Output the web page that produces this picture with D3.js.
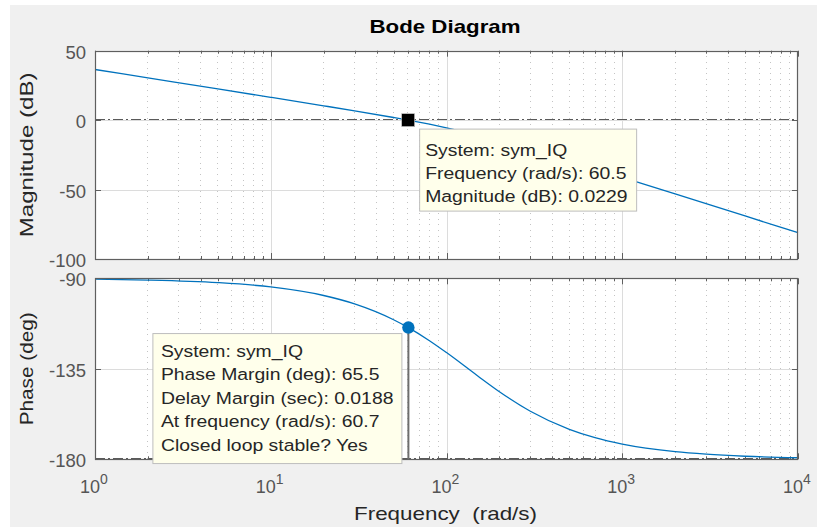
<!DOCTYPE html>
<html>
<head>
<meta charset="utf-8">
<script src="https://cdn.jsdelivr.net/npm/d3@7"></script>
<style>
  html, body { margin: 0; padding: 0; background: #ffffff; }
  svg { display: block; }
  text { font-family: "Liberation Sans", Arial, Helvetica, sans-serif; }
</style>
</head>
<body>
<svg id="chart" width="817" height="529"></svg>
<script>
// ---------------- data ----------------
const title = "Bode Diagram";
const xLabel = "Frequency  (rad/s)";
const magLabel = "Magnitude (dB)";
const phaseLabel = "Phase (deg)";

const magFreq = [1, 2, 5, 10, 20, 30, 50, 60.5, 80, 100, 150, 200, 300, 500, 700, 1000, 2000, 3000, 5000, 10000];
const magDb   = [36.45, 30.43, 22.47, 16.43, 10.33, 6.69, 1.90, 0.02, -2.95, -5.50, -10.63, -14.70, -20.94, -29.33, -35.03, -41.15, -53.13, -60.16, -69.03, -81.07];

const phaseFreq = [1, 2, 5, 10, 20, 30, 50, 60.7, 80, 100, 150, 200, 300, 500, 700, 1000, 2000, 3000, 5000, 10000];
const phaseDeg  = [-90.43, -90.86, -92.15, -94.30, -98.55, -102.71, -110.60, -114.53, -121.02, -126.94, -138.44, -146.38, -156.09, -165.10, -169.24, -172.42, -176.20, -177.46, -178.48, -179.24];

const xDecades = [1, 10, 100, 1000, 10000];
const xExponents = ["0", "1", "2", "3", "4"];
const magTicks = [50, 0, -50, -100];
const phaseTicks = [-90, -135, -180];

const magTip = { freq: 60.5, value: 0.0229,
  lines: ["System: sym_IQ", "Frequency (rad/s): 60.5", "Magnitude (dB): 0.0229"] };
const phaseTip = { freq: 60.7, value: -114.5,
  lines: ["System: sym_IQ", "Phase Margin (deg): 65.5", "Delay Margin (sec): 0.0188", "At frequency (rad/s): 60.7", "Closed loop stable? Yes"] };

// ---------------- layout ----------------
const svg = d3.select("#chart");
const L = 95, R = 798;
const magTop = 50.7, magBot = 259;
const phTop = 278.3, phBot = 459.3;

const x = d3.scaleLog().domain([1, 10000]).range([L, R]);
const yMag = d3.scaleLinear().domain([-100, 50]).range([magBot, magTop]);
const yPh = d3.scaleLinear().domain([-180, -90]).range([phBot, phTop]);

const lineColor = "#0072bd";
const frameColor = "#5f5f5f";
const gridColor = "#dcdcdc";
const minorGridColor = "#c4c4c4";
const tickTextColor = "#555555";

// figure background
svg.append("rect").attr("x", 10).attr("y", 5).attr("width", 807).attr("height", 522).attr("fill", "#f0f0f0");

// minor frequencies
const minorFreqs = [];
for (let d = 0; d < 4; d++) for (let k = 2; k <= 9; k++) minorFreqs.push(k * Math.pow(10, d));

function drawAxes(y, top, bot, yTicks, refValue) {
  const g = svg.append("g");
  g.append("rect").attr("x", L).attr("y", top).attr("width", R - L).attr("height", bot - top).attr("fill", "#ffffff");
  // minor dotted vertical grid
  g.selectAll(".mg").data(minorFreqs).enter().append("line")
    .attr("x1", d => x(d)).attr("x2", d => x(d)).attr("y1", top).attr("y2", bot)
    .attr("stroke", minorGridColor).attr("stroke-width", 1).attr("stroke-dasharray", "1,4.6")
    .attr("shape-rendering", "crispEdges");
  // major vertical grid
  g.selectAll(".vg").data(xDecades.slice(1, -1)).enter().append("line")
    .attr("x1", d => Math.round(x(d)) + 0.5).attr("x2", d => Math.round(x(d)) + 0.5).attr("y1", top).attr("y2", bot)
    .attr("stroke", gridColor).attr("stroke-width", 1);
  // major horizontal grid
  g.selectAll(".hg").data(yTicks).enter().append("line")
    .attr("x1", L).attr("x2", R).attr("y1", d => Math.round(y(d)) + 0.5).attr("y2", d => Math.round(y(d)) + 0.5)
    .attr("stroke", gridColor).attr("stroke-width", 1);
  // reference dash-dot line
  g.append("line").attr("x1", L).attr("x2", R).attr("y1", Math.round(y(refValue)) - 0.5).attr("y2", Math.round(y(refValue)) - 0.5)
    .attr("stroke", "#5a5a5a").attr("stroke-width", 1.2).attr("stroke-dasharray", "10,3,2,3");
  // minor ticks (top & bottom)
  minorFreqs.forEach(f => {
    const xx = Math.round(x(f)) + 0.5;
    g.append("line").attr("x1", xx).attr("x2", xx).attr("y1", bot).attr("y2", bot - 3).attr("stroke", frameColor);
    g.append("line").attr("x1", xx).attr("x2", xx).attr("y1", top).attr("y2", top + 3).attr("stroke", frameColor);
  });
  // major x ticks
  xDecades.forEach(f => {
    const xx = Math.round(x(f)) + 0.5;
    g.append("line").attr("x1", xx).attr("x2", xx).attr("y1", bot).attr("y2", bot - 6).attr("stroke", frameColor);
    g.append("line").attr("x1", xx).attr("x2", xx).attr("y1", top).attr("y2", top + 6).attr("stroke", frameColor);
  });
  // y ticks
  yTicks.forEach(v => {
    const yy = Math.round(y(v)) + 0.5;
    g.append("line").attr("x1", L).attr("x2", L + 6).attr("y1", yy).attr("y2", yy).attr("stroke", frameColor);
    g.append("line").attr("x1", R - 6).attr("x2", R).attr("y1", yy).attr("y2", yy).attr("stroke", frameColor);
  });
  // y tick labels
  g.selectAll(".yl").data(yTicks).enter().append("text")
    .attr("x", L - 9).attr("y", d => y(d) + 1.5)
    .attr("text-anchor", "end").attr("dominant-baseline", "central")
    .attr("font-size", 18.5).attr("fill", tickTextColor)
    .text(d => d);
  return g;
}

const gMag = drawAxes(yMag, magTop, magBot, magTicks, 0);
const gPh = drawAxes(yPh, phTop, phBot, phaseTicks, -180);

// curves
const magLine = d3.line().x(d => x(d[0])).y(d => yMag(d[1])).curve(d3.curveMonotoneX);
gMag.append("path").datum(magFreq.map((f, i) => [f, magDb[i]]))
  .attr("d", magLine).attr("fill", "none").attr("stroke", lineColor).attr("stroke-width", 1.3);

const phLine = d3.line().x(d => x(d[0])).y(d => yPh(d[1])).curve(d3.curveMonotoneX);
gPh.append("path").datum(phaseFreq.map((f, i) => [f, phaseDeg[i]]))
  .attr("d", phLine).attr("fill", "none").attr("stroke", lineColor).attr("stroke-width", 1.3);

// frames
[[magTop, magBot], [phTop, phBot]].forEach(([t, b]) => {
  svg.append("rect").attr("x", L + 0.5).attr("y", Math.round(t) + 0.5)
    .attr("width", R - L - 1).attr("height", Math.round(b) - Math.round(t))
    .attr("fill", "none").attr("stroke", frameColor).attr("stroke-width", 1.2);
});

// x tick labels with superscripts
const xl = svg.append("g");
xDecades.forEach((f, i) => {
  const t = xl.append("text").attr("x", x(f) - 15).attr("y", 493)
    .attr("font-size", 18).attr("fill", tickTextColor);
  t.append("tspan").text("10");
  t.append("tspan").attr("dy", -9).attr("font-size", 14).text(xExponents[i]);
});

// title and axis labels
svg.append("text").attr("x", 445).attr("y", 33).attr("text-anchor", "middle")
  .attr("font-size", 19).attr("font-weight", "bold").attr("fill", "#000")
  .attr("textLength", 151).attr("lengthAdjust", "spacingAndGlyphs").text(title);

svg.append("text").attr("x", 445.5).attr("y", 520).attr("text-anchor", "middle")
  .attr("font-size", 19).attr("fill", "#262626").style("white-space", "pre")
  .attr("textLength", 183).attr("lengthAdjust", "spacingAndGlyphs").text(xLabel);

svg.append("text").attr("transform", `translate(33,${(magTop + magBot) / 2}) rotate(-90)`)
  .attr("text-anchor", "middle").attr("font-size", 19).attr("fill", "#262626")
  .attr("textLength", 165).attr("lengthAdjust", "spacingAndGlyphs").text(magLabel);

svg.append("text").attr("transform", `translate(33,${(phTop + phBot) / 2}) rotate(-90)`)
  .attr("text-anchor", "middle").attr("font-size", 19).attr("fill", "#262626")
  .attr("textLength", 113).attr("lengthAdjust", "spacingAndGlyphs").text(phaseLabel);

// ---------------- data tips ----------------
function tipBox(x0, y0, w, h, lines, tx, ty0) {
  const g = svg.append("g");
  g.append("rect").attr("x", x0 + 0.5).attr("y", y0 + 0.5).attr("width", w).attr("height", h)
    .attr("fill", "#ffffeb").attr("stroke", "#bdbdbd").attr("stroke-width", 1);
  lines.forEach((s, i) => {
    g.append("text").attr("transform", `translate(${tx},${ty0 + i * 23.4}) scale(1.14,1)`)
      .attr("font-size", 17).attr("fill", "#262626").text(s);
  });
}

// phase tip: vertical line, box, marker
const pmx = x(phaseTip.freq), pmy = yPh(phaseTip.value);
svg.append("line").attr("x1", pmx).attr("x2", pmx).attr("y1", pmy).attr("y2", phBot)
  .attr("stroke", "#6e6e6e").attr("stroke-width", 2);
tipBox(pmx - 256, pmy + 5.5, 249, 130, phaseTip.lines, pmx - 247.5, pmy + 29.5);
svg.append("circle").attr("cx", pmx).attr("cy", pmy).attr("r", 6.2).attr("fill", "#0072bd");

// magnitude tip: box, marker
const mmx = x(magTip.freq), mmy = yMag(magTip.value);
tipBox(mmx + 11, mmy + 8.5, 217, 82, magTip.lines, mmx + 17, mmy + 35.5);
svg.append("rect").attr("x", mmx - 6.5).attr("y", mmy - 6.5).attr("width", 13).attr("height", 13)
  .attr("fill", "#000").attr("stroke", "#d0d0d0").attr("stroke-width", 0.6);
</script>
</body>
</html>
